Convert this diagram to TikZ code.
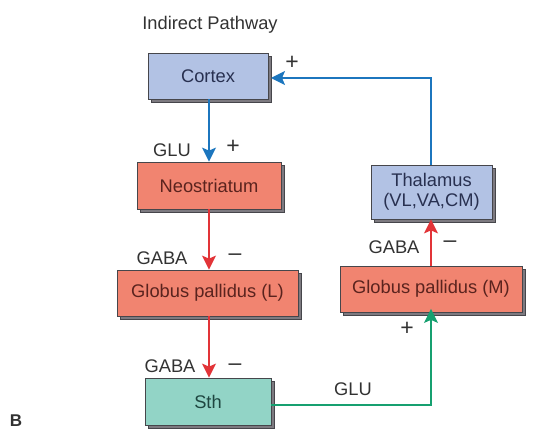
\documentclass[tikz,border=0pt]{standalone}
\usepackage{fontspec}
\setmainfont{Liberation Sans}
\usetikzlibrary{shadows,arrows.meta}
\definecolor{bluefill}{RGB}{178,194,228}
\definecolor{bluetext}{RGB}{40,48,80}
\definecolor{salfill}{RGB}{241,132,112}
\definecolor{saltext}{RGB}{90,35,30}
\definecolor{tealfill}{RGB}{146,212,198}
\definecolor{tealtext}{RGB}{30,70,64}
\definecolor{boxline}{RGB}{70,70,75}
\definecolor{shadowc}{RGB}{125,122,128}
\definecolor{lblue}{RGB}{28,118,190}
\definecolor{lred}{RGB}{226,52,56}
\definecolor{lgreen}{RGB}{22,160,112}
\definecolor{lbltext}{RGB}{50,50,50}
\tikzset{
  box/.style={draw=boxline, line width=0.8pt, inner sep=0pt, align=center,
    font=\fontsize{18.3}{20}\selectfont,
    copy shadow={shadow xshift=3.5pt, shadow yshift=-3.5pt, fill=shadowc, draw=boxline, line width=0.8pt}},
  bluebox/.style={box, fill=bluefill, text=bluetext},
  salbox/.style={box, fill=salfill, text=saltext},
  tealbox/.style={box, fill=tealfill, text=tealtext},
  lbl/.style={font=\fontsize{18.3}{20}\selectfont, text=lbltext, inner sep=0pt},
  sgn/.style={font=\fontsize{23}{23}\selectfont, text=lbltext, inner sep=0pt},
  conn/.style={line width=1.5pt, -{Stealth[length=14pt,width=14pt,inset=3pt]}},
}
\begin{document}
\begin{tikzpicture}[x=1pt,y=-1pt]
\useasboundingbox (0,0) rectangle (536,433);
% boxes
\node[bluebox, minimum width=120pt, minimum height=46pt] (cortex) at (208,76) {Cortex};
\node[salbox, minimum width=144pt, minimum height=47pt] (neo) at (209,185.5) {Neostriatum};
\node[salbox, minimum width=181pt, minimum height=46pt] (gpl) at (207.5,293) {Globus pallidus (L)};
\node[tealbox, minimum width=126pt, minimum height=47pt] (sth) at (208,401.5) {Sth};
\node[bluebox, minimum width=121pt, minimum height=54pt] (thal) at (431.5,192) {Thalamus\\(VL,VA,CM)};
\node[salbox, minimum width=182pt, minimum height=46pt] (gpm) at (431,289) {Globus pallidus (M)};
% connectors
\coordinate (c1) at (209,0);
\draw[conn, lblue] (c1 |- cortex.south) -- (c1 |- neo.north);
\draw[conn, lred] (c1 |- neo.south) -- (c1 |- gpl.north);
\draw[conn, lred] (c1 |- gpl.south) -- (c1 |- sth.north);
\coordinate (c2) at (431,0);
\coordinate (sthout) at (271,405);
\draw[conn, lgreen] (sthout) -| ([yshift=3.5pt]c2 |- gpm.south);
\draw[conn, lred] (c2 |- gpm.north) -- (c2 |- thal.south);
\coordinate (ctin) at (271,78);
\draw[conn, lblue] (c2 |- thal.north) -- (c2 |- ctin) -- (ctin);
% labels
\node[lbl] (title) at (210,25) {Indirect Pathway};
\node[sgn] (p1) at (292,63) {+};
\node[lbl] (glu1) at (172,150) {GLU};
\node[sgn] (p2) at (233,147) {+};
\node[lbl] (gaba1) at (162,258) {GABA};
\node[sgn] (m1) at (235,257) {–};
\node[lbl] (gaba2) at (170,366) {GABA};
\node[sgn] (m2) at (235,367) {–};
\node[lbl] (glu2) at (353,389) {GLU};
\node[sgn] (p3) at (407,329) {+};
\node[lbl] (gaba3) at (394,247) {GABA};
\node[sgn] (m3) at (450,244) {–};
\node[font=\fontsize{17}{20}\selectfont\bfseries, text=lbltext, inner sep=0pt] (b) at (16,421) {B};
\end{tikzpicture}
\end{document}
